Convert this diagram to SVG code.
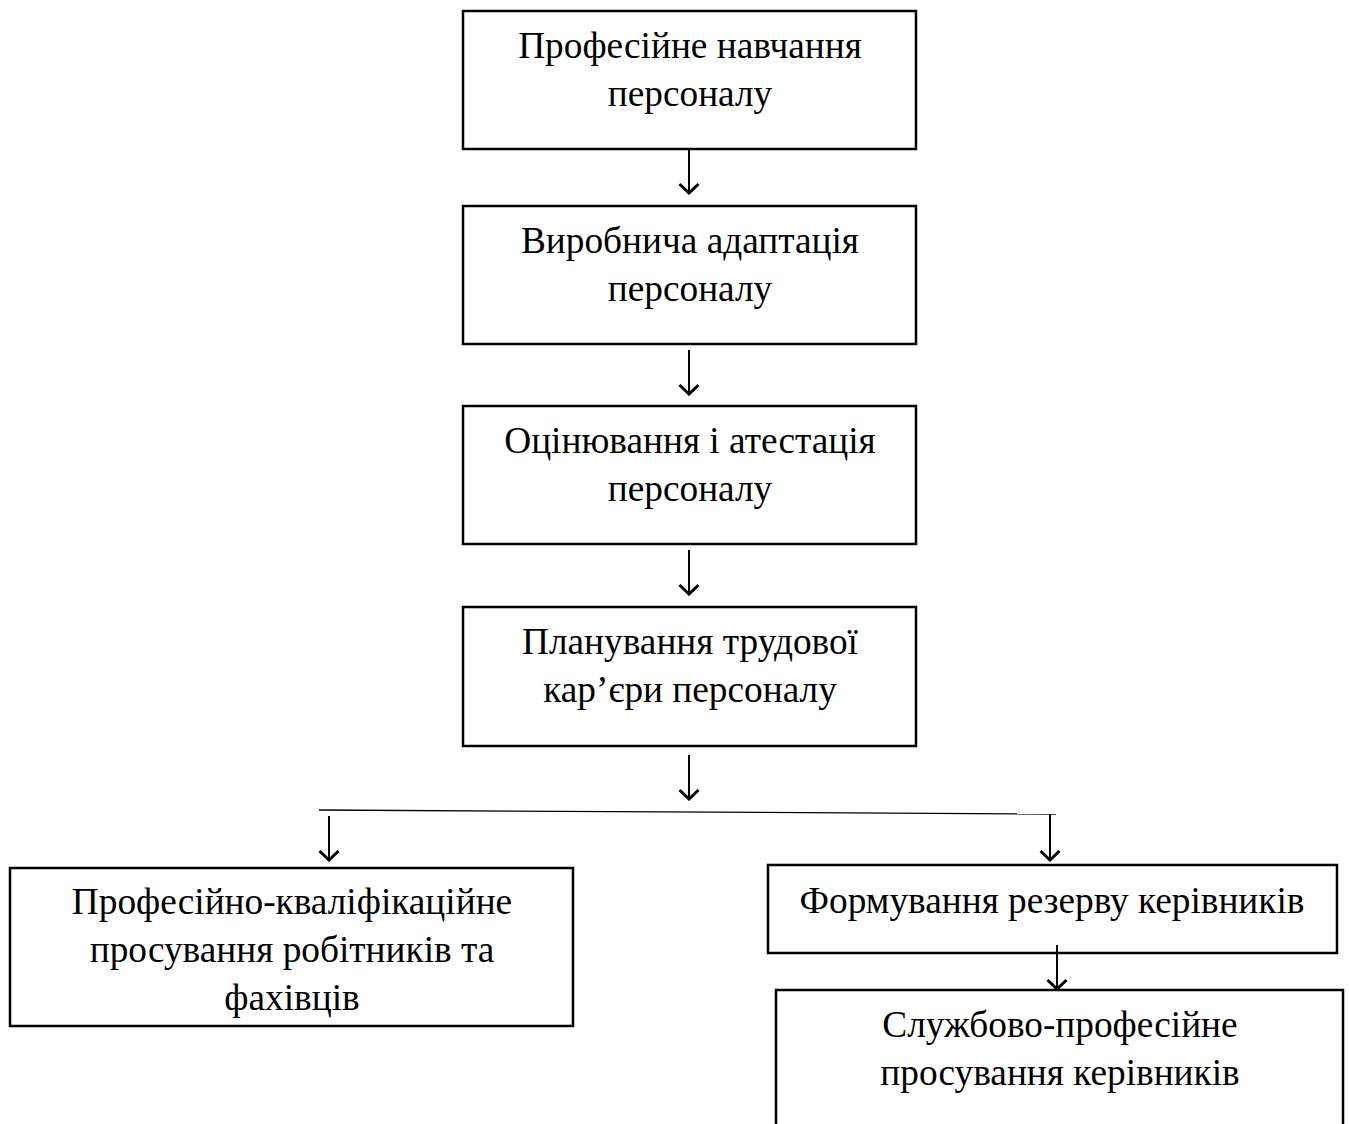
<svg xmlns="http://www.w3.org/2000/svg" width="1349" height="1124" viewBox="0 0 1349 1124">
<defs>
<marker id="ah" viewBox="0 0 14 22" refX="13" refY="11" markerWidth="14" markerHeight="22" markerUnits="userSpaceOnUse" orient="auto">
<path d="M3,1.5 L12,11 L3,20.5" fill="none" stroke="#000" stroke-width="3"/>
</marker>
<style>
.box{fill:#fff;stroke:#000;stroke-width:2.5}
.t{font-family:"Liberation Serif","Times New Roman",serif;font-size:37.3px;fill:#000;text-anchor:middle}
.c{stroke:#000;stroke-width:2;fill:none}
</style>
</defs>
<rect width="1349" height="1124" fill="#fff"/>
<g id="n1"><rect class="box" x="463" y="11" width="453" height="138"/>
<text class="t" x="690" y="58">Професійне навчання</text><text class="t" x="690" y="106">персоналу</text></g>
<g id="n2"><rect class="box" x="463" y="206" width="453" height="138"/>
<text class="t" x="690" y="253">Виробнича адаптація</text><text class="t" x="690" y="301">персоналу</text></g>
<g id="n3"><rect class="box" x="463" y="406" width="453" height="138"/>
<text class="t" x="690" y="453">Оцінювання і атестація</text><text class="t" x="690" y="501">персоналу</text></g>
<g id="n4"><rect class="box" x="463" y="607" width="453" height="139"/>
<text class="t" x="690" y="654">Планування трудової</text><text class="t" x="690" y="702">кар’єри персоналу</text></g>
<g id="n5"><rect class="box" x="10" y="868" width="563" height="158"/>
<text class="t" x="292" y="914">Професійно-кваліфікаційне</text><text class="t" x="292" y="962">просування робітників та</text><text class="t" x="292" y="1010">фахівців</text></g>
<g id="n6"><rect class="box" x="768" y="865" width="569" height="88"/>
<text class="t" x="1052" y="913">Формування резерву керівників</text></g>
<g id="n7"><path class="box" d="M776,1126 L776,990 L1343,990 L1343,1126" fill="#fff"/>
<text class="t" x="1060" y="1037">Службово-професійне</text><text class="t" x="1060" y="1085">просування керівників</text></g>
<g id="connectors">
<line class="c" x1="689" y1="150" x2="689" y2="194" marker-end="url(#ah)"/>
<line class="c" x1="689" y1="350" x2="689" y2="395" marker-end="url(#ah)"/>
<line class="c" x1="689" y1="550" x2="689" y2="595" marker-end="url(#ah)"/>
<line class="c" x1="689" y1="755" x2="689" y2="800" marker-end="url(#ah)"/>
<line x1="319" y1="810" x2="1056" y2="814" stroke="#000" stroke-width="1.3"/>
<line class="c" x1="329" y1="816" x2="329" y2="861" marker-end="url(#ah)"/>
<line class="c" x1="1050" y1="814" x2="1050" y2="861" marker-end="url(#ah)"/>
<line class="c" x1="1057" y1="945" x2="1057" y2="990" marker-end="url(#ah)"/>
</g>
</svg>
